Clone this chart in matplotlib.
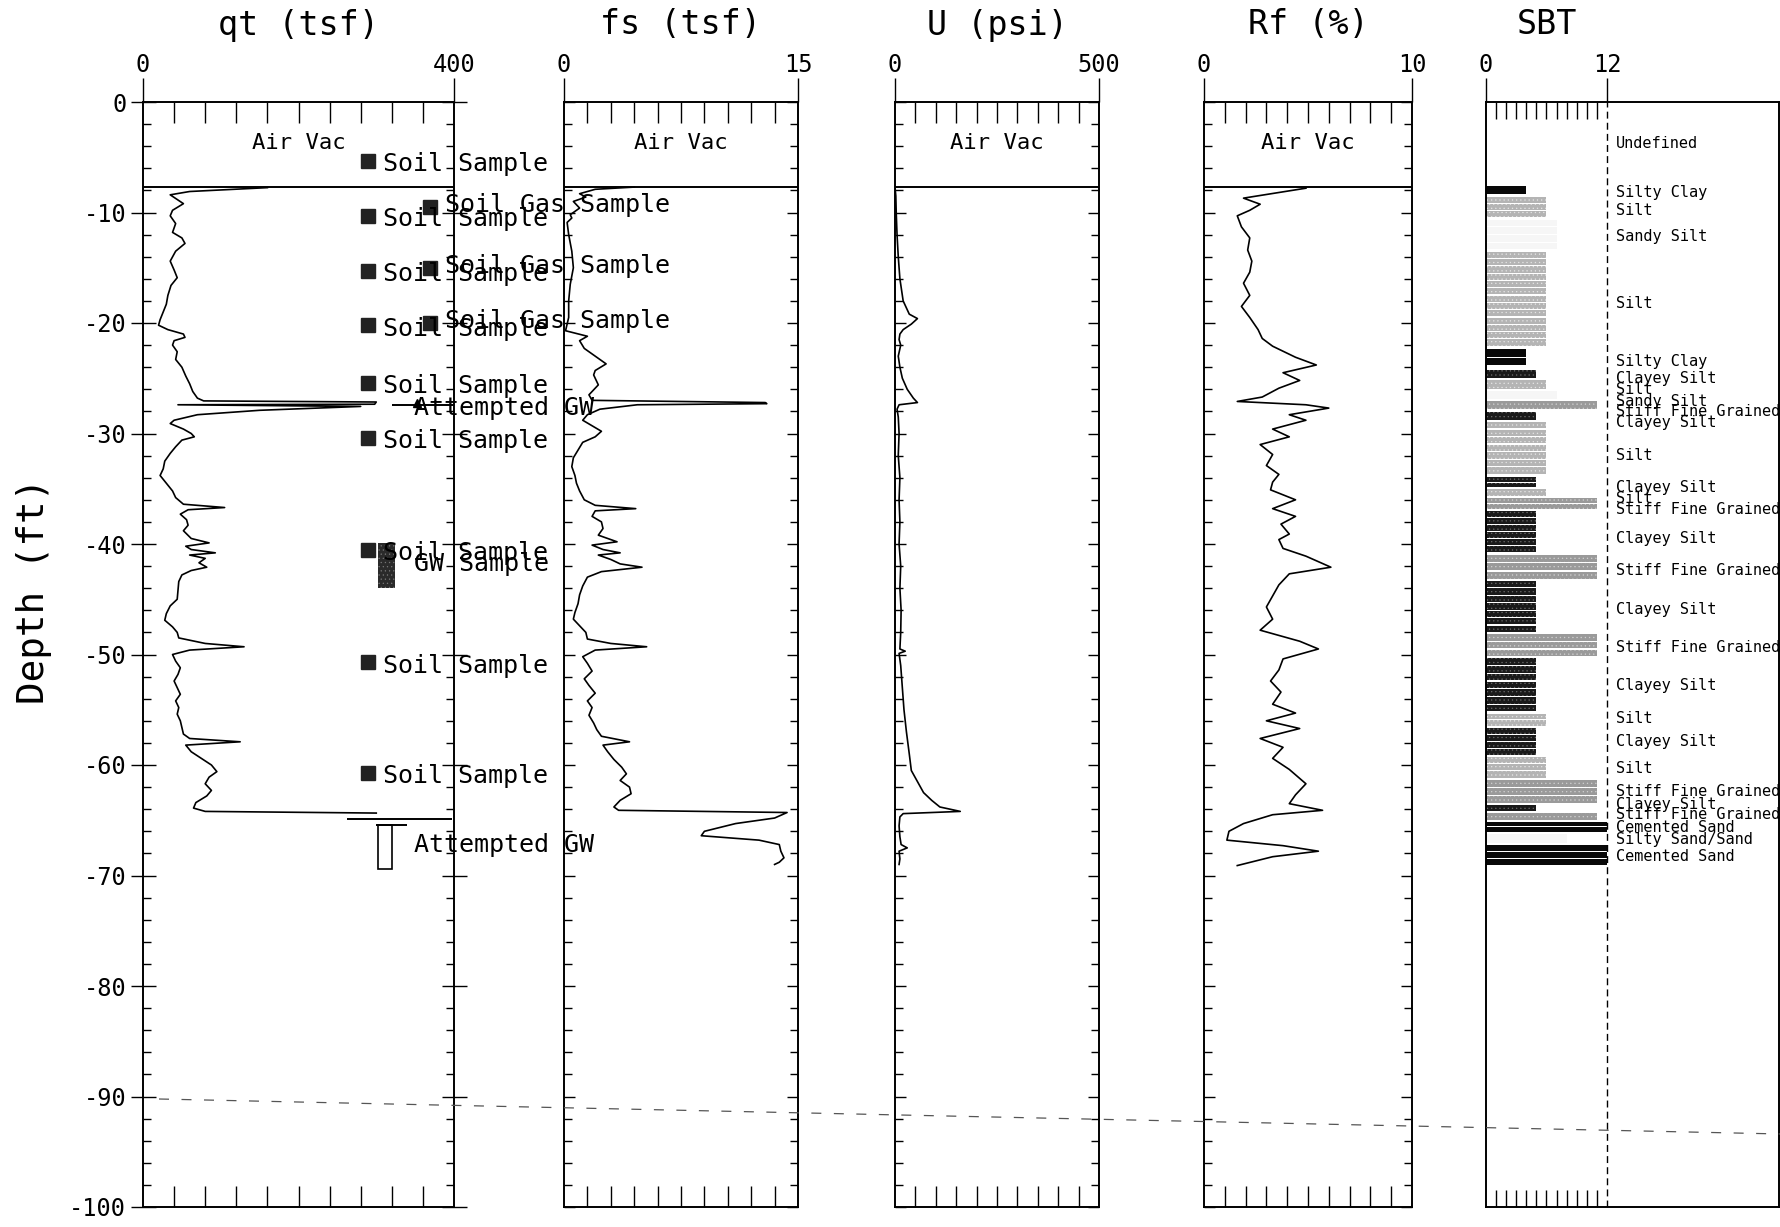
import numpy as np
import matplotlib
matplotlib.use('Agg')
import matplotlib.pyplot as plt
from matplotlib.lines import Line2D
from matplotlib.patches import Rectangle

plt.rcParams['font.family'] = ['DejaVu Sans Mono']
plt.rcParams['axes.unicode_minus'] = False
plt.rcParams['hatch.linewidth'] = 0.4

# ---------------- data (depth in ft) ----------------
air_vac_depth = 7.7

qt_depth = [7.75, 8.1, 8.4, 9.2, 9.8, 10.3, 11.0, 11.8, 12.3, 12.8, 13.5, 14.4, 15.2, 15.9, 16.6,
            17.5, 18.3, 19.0, 19.7, 20.2, 20.6, 21.0, 21.3, 21.6, 22.0, 22.6, 23.3, 24.0, 24.8,
            25.5, 26.2, 26.8, 27.05, 27.15, 27.35, 27.4, 27.55, 27.9, 28.3, 28.8, 29.1, 29.6,
            30.0, 30.3, 30.6, 31.2, 31.8, 32.5, 33.2, 33.8, 34.5, 35.2, 35.8, 36.4, 36.7, 36.9,
            37.3, 37.8, 38.3, 38.8, 39.5, 39.9, 40.2, 40.5, 40.8, 41.0, 41.3, 41.7, 42.1, 42.4,
            42.8, 43.4, 44.2, 45.0, 45.6, 46.3, 46.9, 47.5, 48.0, 48.5, 49.0, 49.3, 49.6, 50.0,
            50.6, 51.2, 51.8, 52.4, 53.0, 53.6, 54.2, 54.8, 55.4, 56.0, 56.6, 57.2, 57.6, 57.9,
            58.2, 58.8, 59.4, 60.0, 60.6, 61.1, 61.7, 62.3, 62.8, 63.4, 63.9, 64.2, 64.35]
qt_value = [160, 60, 35, 52, 38, 35, 42, 38, 50, 54, 42, 35, 40, 44, 36, 32, 30, 26, 22, 20, 32,
            52, 54, 40, 38, 44, 42, 50, 55, 60, 64, 70, 78, 300, 298, 45, 280, 150, 70, 40, 35,
            52, 62, 66, 50, 42, 35, 28, 26, 22, 30, 38, 42, 52, 105, 58, 48, 56, 58, 52, 62, 85,
            55, 62, 93, 60, 80, 72, 82, 62, 50, 46, 45, 44, 35, 30, 28, 38, 44, 46, 80, 130, 60,
            38, 42, 48, 45, 40, 44, 48, 42, 46, 44, 48, 50, 52, 60, 125, 55, 62, 75, 88, 95, 85,
            80, 88, 82, 68, 65, 80, 300]

fs_depth = [7.7, 7.9, 8.3, 8.6, 9.0, 9.6, 10.2, 10.5, 10.9, 12.0, 13.5, 15.0, 16.5, 18.0, 19.5,
            20.7, 21.2, 21.6, 22.3, 23.7, 24.3, 24.7, 25.6, 26.5, 27.0, 27.2, 27.3, 27.4, 27.8,
            28.3, 28.8, 29.3, 29.8, 30.3, 30.8, 31.5, 32.2, 33.0, 33.8, 34.5, 35.2, 36.0, 36.5,
            36.8, 37.0, 37.5, 38.0, 38.6, 39.2, 39.8, 40.1, 40.5, 40.8, 41.0, 41.4, 41.8, 42.1,
            42.5, 43.0, 43.8, 44.6, 45.4, 46.2, 46.8, 47.4, 48.0, 48.6, 49.0, 49.3, 49.6, 50.2,
            50.8, 51.5, 52.2, 52.8, 53.5, 54.2, 54.8, 55.5, 56.2, 56.8, 57.4, 57.9, 58.2, 58.8,
            59.5, 60.2, 60.8, 61.4, 62.0, 62.6, 63.2, 63.8, 64.1, 64.3, 64.8, 65.3, 66.0, 66.4,
            66.8, 67.2, 67.8, 68.4, 68.8, 69.0]
fs_value = [4.5, 2.0, 1.0, 1.4, 0.6, 1.0, 0.4, 0.5, 0.2, 0.3, 0.5, 0.6, 0.4, 0.3, 0.3, 0.1, 1.5,
            1.0, 1.3, 2.7, 2.0, 1.9, 2.2, 1.6, 1.8, 12.9, 13.0, 4.7, 2.3, 1.5, 1.2, 1.8, 2.4, 2.0,
            1.2, 0.9, 0.6, 0.5, 0.7, 0.8, 1.0, 1.3, 2.0, 4.6, 2.0, 1.8, 2.4, 2.5, 2.2, 3.4, 1.8,
            2.5, 3.6, 2.2, 3.0, 3.6, 5.0, 2.4, 1.5, 1.2, 1.0, 0.9, 0.7, 0.6, 1.0, 1.4, 1.5, 3.0,
            5.3, 2.0, 1.2, 1.5, 1.8, 1.3, 1.6, 2.0, 1.5, 1.8, 1.6, 1.9, 2.1, 2.4, 4.2, 2.5, 2.8,
            3.2, 3.7, 4.0, 3.6, 4.2, 4.3, 3.6, 3.2, 3.5, 14.3, 13.5, 11.0, 9.0, 8.8, 12.5, 13.8,
            13.9, 14.1, 13.8, 13.5]

u_depth = [7.7, 8.5, 10, 12, 14, 16, 18, 19.2, 19.6, 20.1, 20.6, 21.0, 21.5, 22.0, 23, 24, 25,
           26, 26.8, 27.2, 27.4, 27.8, 28.5, 30, 32, 34, 36, 38, 40, 42, 44, 46, 48, 49.5, 49.7,
           49.9, 51, 53, 55, 57, 59, 60.5, 61.5, 62.5, 63.2, 63.8, 64.2, 64.4, 64.7, 65.5, 66.5,
           67.2, 67.5, 67.8, 68.5, 69]
u_value = [0, 2, 3, 5, 8, 12, 20, 35, 55, 40, 20, 12, 10, 14, 8, 12, 18, 30, 45, 55, 10, 5, 8,
           10, 8, 12, 10, 12, 10, 14, 12, 15, 14, 12, 25, 10, 14, 18, 22, 28, 35, 40, 55, 70, 90,
           110, 160, 20, 12, 10, 12, 15, 30, 10, 12, 10]

rf_depth = [7.8, 8.7, 9.25, 9.8, 10.3, 11.3, 12.3, 13.4, 14.4, 15.4, 16.4, 17.5, 18.5, 19.5,
            20.6, 21.4, 22.1, 23.1, 23.8, 24.5, 25.2, 25.9, 26.7, 27.1, 27.4, 27.7, 28.3, 28.8,
            29.6, 30.3, 31.0, 31.9, 32.9, 33.7, 34.4, 35.1, 36.0, 36.8, 37.5, 38.2, 39.1, 39.6,
            40.4, 41.1, 42.1, 42.7, 43.7, 44.7, 45.7, 46.8, 47.8, 48.8, 49.5, 50.4, 51.4, 52.4,
            53.4, 54.5, 55.3, 56.0, 56.7, 57.6, 58.4, 59.4, 60.4, 61.7, 62.7, 63.5, 64.1, 64.5,
            65.3, 66.0, 66.8, 67.3, 67.8, 68.3, 69.1]
rf_value = [4.9, 1.9, 2.7, 2.2, 1.6, 1.8, 2.2, 2.1, 2.3, 2.2, 1.9, 2.2, 1.8, 2.2, 2.6, 2.8, 3.3,
            4.4, 5.4, 3.8, 4.6, 3.6, 2.8, 1.6, 4.9, 6.0, 4.1, 4.9, 3.3, 4.1, 2.7, 3.3, 3.0, 3.6,
            3.3, 3.2, 4.4, 3.3, 4.4, 3.7, 4.1, 3.6, 3.8, 4.9, 6.1, 4.1, 3.6, 3.3, 3.0, 3.3, 2.7,
            4.6, 5.5, 3.8, 3.6, 3.2, 3.7, 3.3, 4.4, 3.0, 4.6, 2.7, 3.8, 3.3, 4.1, 4.9, 4.4, 4.1,
            5.7, 3.3, 1.9, 1.2, 1.1, 3.8, 5.5, 3.3, 1.6]

# SBT layers: top, bottom (ft) and zone number
sbt_top = [7.5, 8.5, 10.6, 13.5, 22.3, 24.2, 25.1, 26.1, 27.0, 28.0, 28.9, 33.9, 35.0, 35.8,
           37.0, 40.9, 43.3, 48.1, 50.3, 55.3, 56.6, 59.2, 61.3, 63.6, 64.3, 65.1, 66.2, 67.2]
sbt_bot = [8.4, 10.5, 13.4, 22.1, 23.9, 25.0, 26.0, 26.9, 27.9, 28.8, 33.7, 34.9, 35.7, 36.9,
           40.8, 43.2, 48.0, 50.2, 55.2, 56.5, 59.1, 61.2, 63.5, 64.2, 65.0, 66.1, 67.1, 69.1]
sbt_zone = [4, 6, 7, 6, 4, 5, 6, 7, 11, 5, 6, 5, 6, 11, 5, 11, 5, 11, 5, 6, 5, 6, 11, 5, 11, 12,
            8, 12]

sbt_label_depth = [3.8, 8.2, 9.8, 12.2, 18.2, 23.5, 25.0, 26.0, 27.1, 28.0, 29.0, 32.0, 34.9,
                   35.9, 36.9, 39.5, 42.4, 45.9, 49.4, 52.8, 55.8, 57.9, 60.3, 62.4, 63.6, 64.5,
                   65.7, 66.7, 68.3]
sbt_label_text = ['Undefined', 'Silty Clay', 'Silt', 'Sandy Silt', 'Silt', 'Silty Clay',
                  'Clayey Silt', 'Silt', 'Sandy Silt', 'Stiff Fine Grained', 'Clayey Silt',
                  'Silt', 'Clayey Silt', 'Silt', 'Stiff Fine Grained', 'Clayey Silt',
                  'Stiff Fine Grained', 'Clayey Silt', 'Stiff Fine Grained', 'Clayey Silt',
                  'Silt', 'Clayey Silt', 'Silt', 'Stiff Fine Grained', 'Clayey Silt',
                  'Stiff Fine Grained', 'Cemented Sand', 'Silty Sand/Sand', 'Cemented Sand']

soil_sample_depth = [5.3, 10.3, 15.3, 20.2, 25.4, 30.4, 40.5, 50.7, 60.7]
soil_gas_depth = [9.5, 15.0, 20.0]
gw_sample_depth = 41.8
gw_sample_top, gw_sample_bot = 39.9, 44.0
attempted_gw_depth = [27.7, 67.2]

# ---------------- figure ----------------
W, H = 1781.0, 1227.0
fig = plt.figure(figsize=(W / 100, H / 100), dpi=100)
TOP, BOT = 102, 1207


def add_panel(x0, x1):
    return fig.add_axes([x0 / W, 1 - BOT / H, (x1 - x0) / W, (BOT - TOP) / H], facecolor='none')


def style_panel(ax, xmax, title, left_labels=False):
    ax.set_xlim(0, xmax)
    ax.set_ylim(-100, 0)
    for s in ax.spines.values():
        s.set_linewidth(1.4)
    ax.set_xticks([0, xmax])
    ax.set_xticklabels(['0', str(xmax)])
    ax.set_xticks(np.linspace(0, xmax, 11)[1:-1], minor=True)
    ax.tick_params(axis='x', which='major', top=True, bottom=False, labeltop=True,
                   labelbottom=False, direction='out', length=17, width=1, labelsize=17, pad=1)
    ax.tick_params(axis='x', which='minor', top=True, bottom=True, direction='in',
                   length=15, width=1)
    ax.set_yticks(np.arange(-100, 1, 10))
    ax.set_yticks(np.arange(-100, 1, 2), minor=True)
    ax.tick_params(axis='y', which='minor', left=True, right=True, direction='in',
                   length=6, width=1)
    ax.tick_params(axis='y', which='major', left=True, right=True,
                   direction='inout' if left_labels else 'in',
                   length=18 if left_labels else 8, width=1,
                   labelleft=left_labels, labelsize=17, pad=3)
    ax.axhline(-air_vac_depth, color='k', lw=1.4)
    ax.text(xmax / 2, -3.7, 'Air Vac', ha='center', va='center', fontsize=16)
    ax.text(0.5, 1 + 77 / (BOT - TOP), title, transform=ax.transAxes,
            ha='center', va='center', fontsize=24)


# qt
ax_qt = add_panel(143, 454)
style_panel(ax_qt, 400, 'qt (tsf)', left_labels=True)
ax_qt.plot(qt_value, -np.array(qt_depth), color='k', lw=1.2)
ax_qt.plot([289] * len(soil_sample_depth), -np.array(soil_sample_depth), 's',
           color='#222222', ms=10, clip_on=False)
for d in soil_sample_depth:
    ax_qt.text(309, -d - 0.3, 'Soil Sample', va='center', fontsize=18, clip_on=False)
ax_qt.plot([369] * len(soil_gas_depth), -np.array(soil_gas_depth), 's',
           color='#222222', ms=10, clip_on=False)
for d in soil_gas_depth:
    ax_qt.text(388, -d + 0.2, 'Soil Gas Sample', va='center', fontsize=18, clip_on=False)
ax_qt.add_patch(Rectangle((302, -gw_sample_bot), 22, gw_sample_bot - gw_sample_top,
                          facecolor='#2a2a2a', edgecolor='#777777', hatch='....', lw=0))
ax_qt.text(349, -gw_sample_depth, 'GW Sample', va='center', fontsize=18, clip_on=False)
for d in attempted_gw_depth:
    ax_qt.text(349, -d, 'Attempted GW', va='center', fontsize=18, clip_on=False)
ax_qt.hlines(-27.4, 320, 400, color='k', lw=1.4)
ax_qt.plot(352, -27.2, '^', color='k', ms=6)
ax_qt.hlines([-64.9, -65.4], [262, 300], [398, 340], color='k', lw=1.4)
ax_qt.add_patch(Rectangle((302, -69.4), 18, 4.0, facecolor='none', edgecolor='k', lw=1.2))

# fs
ax_fs = add_panel(564, 798)
style_panel(ax_fs, 15, 'fs (tsf)')
ax_fs.plot(fs_value, -np.array(fs_depth), color='k', lw=1.2)

# U
ax_u = add_panel(895, 1099)
style_panel(ax_u, 500, 'U (psi)')
ax_u.plot(u_value, -np.array(u_depth), color='k', lw=1.2)

# Rf
ax_rf = add_panel(1204, 1412)
style_panel(ax_rf, 10, 'Rf (%)')
ax_rf.plot(rf_value, -np.array(rf_depth), color='k', lw=1.2)

# SBT
sbt_max = 12 * (1779 - 1486) / (1607 - 1486)
ax_s = add_panel(1486, 1779)
ax_s.set_xlim(0, sbt_max)
ax_s.set_ylim(-100, 0)
for s in ax_s.spines.values():
    s.set_linewidth(1.4)
ax_s.set_xticks([0, 12])
ax_s.set_xticklabels(['0', '12'])
ax_s.set_xticks(np.arange(1, 12), minor=True)
ax_s.tick_params(axis='x', which='major', top=True, bottom=False, labeltop=True,
                 labelbottom=False, direction='out', length=17, width=1, labelsize=17, pad=1)
ax_s.tick_params(axis='x', which='minor', top=True, bottom=True, direction='in',
                 length=12, width=1)
ax_s.set_yticks([])
ax_s.axvline(12, color='k', lw=1, ls=(0, (5, 3)))
ax_s.text(6, 1 + 77 / (BOT - TOP), 'SBT', transform=ax_s.get_xaxis_transform(),
          ha='center', va='center', fontsize=24)

zone_style = {4: ('#080808', None, None), 5: ('#1a1a1a', '....', '#6a6a6a'),
              6: ('#b4b4b4', '....', '#e4e4e4'), 7: ('#f6f6f6', None, None),
              8: ('#f6f6f6', None, None), 11: ('#9a9a9a', '....', '#d0d0d0'),
              12: ('#080808', None, None)}
for t, b, z in zip(sbt_top, sbt_bot, sbt_zone):
    n = max(1, int(round((b - t) / 0.66)))
    edges = np.linspace(t, b, n + 1)
    centers = (edges[:-1] + edges[1:]) / 2
    color, hatch, hcol = zone_style[z]
    ax_s.barh(-centers, z, height=(edges[1] - edges[0]) * 0.84, left=0, color=color,
              edgecolor=hcol if hatch else color, hatch=hatch, lw=0)
for d, name in zip(sbt_label_depth, sbt_label_text):
    ax_s.text(12.9, -d, name, va='center', fontsize=11, clip_on=True)

fig.text(34 / W, 1 - 591 / H, 'Depth (ft)', rotation=90, ha='center', va='center', fontsize=27)

# faint slanted dashed scan line across the sheet
fig.add_artist(Line2D([159 / W, 1.0], [1 - 1099 / H, 1 - 1134 / H], transform=fig.transFigure,
                      color='#555555', lw=0.9, ls=(0, (8, 10))))

fig.savefig('out.png', dpi=100, facecolor='white')
